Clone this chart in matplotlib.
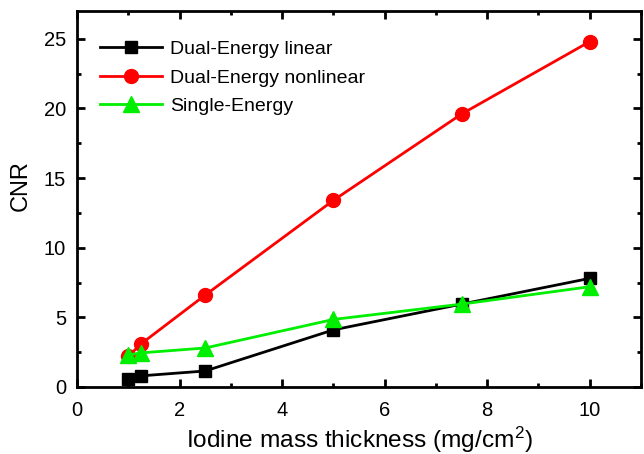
import matplotlib
matplotlib.use("Agg")
import matplotlib.pyplot as plt
from matplotlib.ticker import MultipleLocator

plt.rcParams["font.family"] = ["Liberation Sans", "DejaVu Sans"]
plt.rcParams["mathtext.fontset"] = "custom"
plt.rcParams["mathtext.rm"] = "Liberation Sans"

# iodine mass thickness (mg/cm2)
thickness = [1, 1.25, 2.5, 5, 7.5, 10]
de_linear = [0.55, 0.8, 1.15, 4.1, 5.95, 7.8]
de_nonlinear = [2.2, 3.1, 6.6, 13.4, 19.6, 24.8]
single_energy = [2.3, 2.45, 2.8, 4.85, 5.95, 7.2]

fig = plt.figure(figsize=(6.44, 4.54), dpi=100)
ax = fig.add_axes([0.1196, 0.1476, 0.8757, 0.8282])

ax.plot(thickness, de_linear, color="black", marker="s", ms=9, lw=2,
        label="Dual-Energy linear")
ax.plot(thickness, de_nonlinear, color="#ff0000", marker="o", ms=10, lw=2,
        label="Dual-Energy nonlinear")
ax.plot(thickness, single_energy, color="#00ee00", marker="^", ms=11, lw=2,
        label="Single-Energy")

ax.set_xlim(0, 11)
ax.set_ylim(0, 27)
ax.xaxis.set_major_locator(MultipleLocator(2))
ax.xaxis.set_minor_locator(MultipleLocator(1))
ax.yaxis.set_major_locator(MultipleLocator(5))
ax.yaxis.set_minor_locator(MultipleLocator(2.5))
ax.tick_params(which="both", direction="in", top=True, right=True,
               labelsize=14.5, width=2)
ax.tick_params(which="major", length=6)
ax.tick_params(which="minor", length=3)
ax.tick_params(axis="x", pad=10)
ax.tick_params(axis="y", pad=8)
for s in ax.spines.values():
    s.set_linewidth(2)

ax.set_xlabel("Iodine mass thickness (mg/cm$\\mathrm{^2}$)", fontsize=17.6)
ax.set_ylabel("CNR", fontsize=17)
ax.xaxis.set_label_coords(0.5, -0.10)
ax.yaxis.set_label_coords(-0.080, 0.535)

ax.legend(loc="upper left", frameon=False, fontsize=14, handlelength=3.2,
          handletextpad=0.4, labelspacing=0.55, borderpad=0, borderaxespad=0,
          bbox_to_anchor=(0.041, 0.921))

fig.savefig("out.png", dpi=100)
